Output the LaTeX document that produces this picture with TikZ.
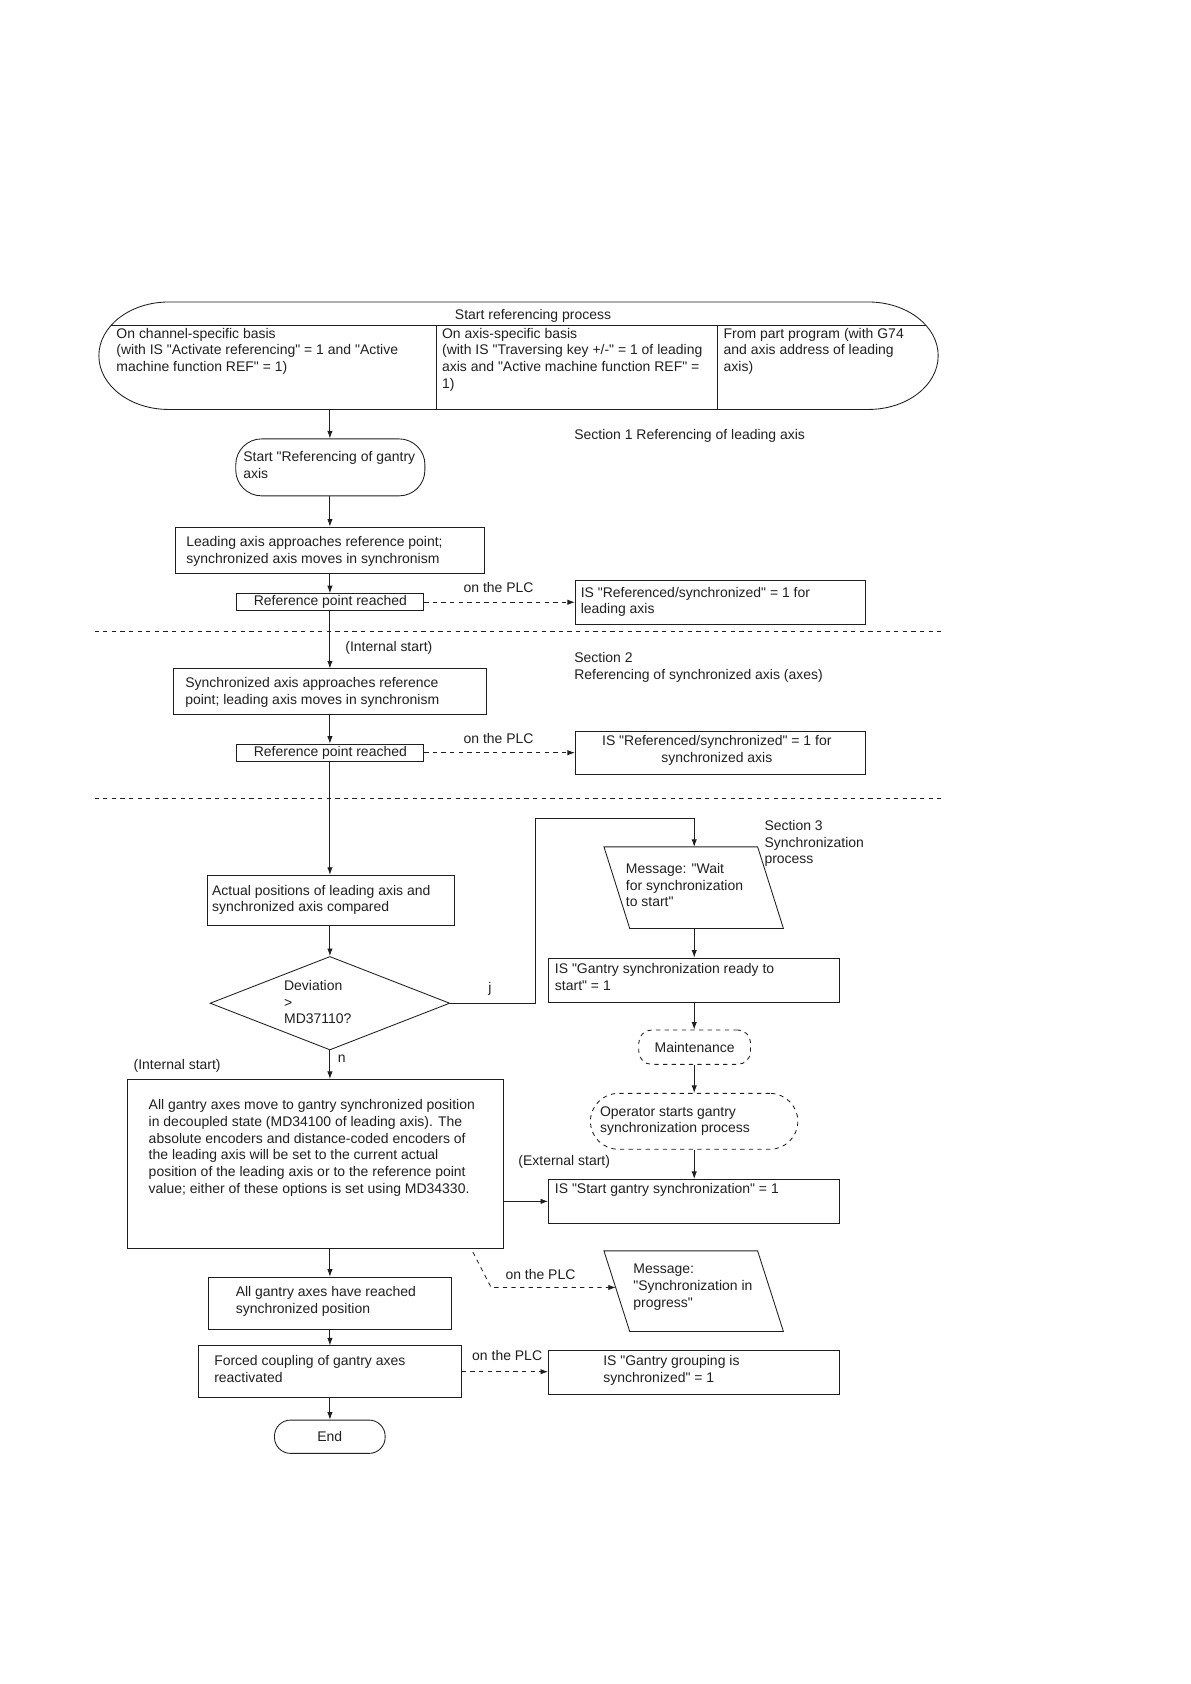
\documentclass[tikz,border=0pt]{standalone}
\usepackage{fontspec}
\setmainfont{Liberation Sans}[Ligatures=TeXOff]
\usetikzlibrary{arrows.meta,shapes.geometric}
\newcommand{\dfont}{\fontsize{13pt}{15.5pt}\selectfont}
\begin{document}
\begin{tikzpicture}[x=1pt,y=-1pt,line width=0.8pt,color={black!88},
  box/.style={draw,rectangle,inner sep=0pt,anchor=north west,font=\dfont},
  rbox/.style={box,rounded corners=#1},
  txt/.style={font=\dfont,inner sep=0pt,align=left,anchor=north west},
  lbl/.style={font=\dfont,inner sep=0pt,anchor=west},
  arr/.style={-{Latex[length=7pt,width=5pt]}},
  dsh/.style={dash pattern=on 4pt off 4pt},
  darr/.style={arr,dsh}]
\useasboundingbox (0,0) rectangle (1108,1567);
\coordinate (spine) at (307,0);
\coordinate (spine2) at (646,0);

% ---- top terminator
\draw (157,281) -- (808,281) arc[start angle=-90,end angle=90,x radius=65,y radius=50]
  -- (157,381) arc[start angle=90,end angle=270,x radius=65,y radius=50] -- cycle;
\draw (103,303) -- (862,303);
\draw (406,303) -- (406,381);
\draw (668,303) -- (668,381);
\coordinate (topbot) at (307,381);
\node[font=\dfont,inner sep=0pt,anchor=base] (ttitle) at (496,297) {Start referencing process};
\node[txt] (tc1) at (108,305) {On channel-specific basis\\(with IS "Activate referencing" = 1 and "Active\\machine function REF" = 1)};
\node[txt] (tc2) at (411,305) {On axis-specific basis\\(with IS "Traversing key +/-" = 1 of leading\\axis and "Active machine function REF" =\\1)};
\node[txt] (tc3) at (673,305) {From part program (with G74\\and axis address of leading\\axis)};

% ---- section 1
\node[rbox=24pt,minimum width=176pt,minimum height=53pt] (gstart) at (219,408) {};
\node[txt] (tgstart) at (226,420) {Start "Referencing of gantry\\axis};
\node[box,minimum width=287pt,minimum height=43pt] (lead) at (163,490) {};
\node[txt] (tlead) at (173,499) {Leading axis approaches reference point;\\synchronized axis moves in synchronism};
\node[box,minimum width=174pt,minimum height=16pt] (rpr1) at (220,552) {Reference point reached};
\node[box,minimum width=270pt,minimum height=41pt] (isref1) at (535,540) {};
\node[txt] (tisref1) at (540,546) {IS "Referenced/synchronized" = 1 for\\leading axis};
\node[lbl] (plc1) at (431,547) {on the PLC};
\node[lbl] (sec1) at (534,406) {Section 1 Referencing of leading axis};

\draw[dsh] (88,588) -- (876,588);

% ---- section 2
\node[lbl] (int1) at (321,603) {(Internal start)};
\node[txt] (sec2) at (534,607) {Section 2\\Referencing of synchronized axis (axes)};
\node[box,minimum width=291pt,minimum height=42pt] (sync) at (161,622) {};
\node[txt] (tsync) at (172,630) {Synchronized axis approaches reference\\point; leading axis moves in synchronism};
\node[box,minimum width=174pt,minimum height=16pt] (rpr2) at (220,692) {Reference point reached};
\node[box,minimum width=270pt,minimum height=40pt] (isref2) at (535,680) {};
\node[font=\dfont,inner sep=0pt,align=center] (tisref2) at (667,698) {IS "Referenced/synchronized" = 1 for\\synchronized axis};
\node[lbl] (plc2) at (431,687) {on the PLC};

\draw[dsh] (88,743) -- (876,743);

% ---- section 3
\node[txt] (sec3) at (711,763) {Section 3\\Synchronization\\process};
\node[box,minimum width=229pt,minimum height=47pt] (actual) at (193,814) {};
\node[txt] (tactual) at (197,823) {Actual positions of leading axis and\\synchronized axis compared};
\node[draw,diamond,minimum width=223pt,minimum height=87pt,inner sep=0pt] (dev) at (307,933.5) {};
\node[txt] (tdev) at (264,912) {Deviation\\>\\MD37110?};
\node[lbl] (lj) at (454,920) {j};
\node[lbl] (ln) at (314,985) {n};

\draw (562,788) -- (705,788) -- (729,864) -- (586,864) -- cycle;
\coordinate (msg1top) at (646,788);
\coordinate (msg1bot) at (646,864);
\node[txt] (tmsg1) at (582,803) {Message: "Wait\\for synchronization\\to start"};
\node[box,minimum width=271pt,minimum height=41pt] (ready) at (510,891) {};
\node[txt] (tready) at (516,896) {IS "Gantry synchronization ready to\\start" = 1};
\node[rbox=12pt,dsh,minimum width=104pt,minimum height=32pt] (maint) at (594,958) {Maintenance};
\node[rbox=26pt,dsh,minimum width=193pt,minimum height=52pt] (oper) at (549,1017) {};
\node[txt] (toper) at (558,1029) {Operator starts gantry\\synchronization process};
\node[lbl] (ext) at (482,1081) {(External start)};
\node[box,minimum width=271pt,minimum height=41pt] (startsync) at (510,1097) {};
\node[lbl] (tstartsync) at (516,1107) {IS "Start gantry synchronization" = 1};

\node[lbl] (int2) at (124,992) {(Internal start)};
\node[box,minimum width=350pt,minimum height=157pt] (big) at (118,1004) {};
\node[txt] (tbig) at (138,1023) {All gantry axes move to gantry synchronized position\\in decoupled state (MD34100 of leading axis). The\\absolute encoders and distance-coded encoders of\\the leading axis will be set to the current actual\\position of the leading axis or to the reference point\\value; either of these options is set using MD34330.};
\node[box,minimum width=226pt,minimum height=49pt] (reached) at (194,1188) {};
\node[txt] (treached) at (219,1197) {All gantry axes have reached\\synchronized position};

\draw (562,1164) -- (705,1164) -- (729,1239) -- (586,1239) -- cycle;
\coordinate (msg2left) at (573,1198);
\node[txt] (tmsg2) at (589,1176) {Message:\\"Synchronization in\\progress"};
\node[lbl] (plc3) at (470,1186) {on the PLC};
\coordinate (plcstart) at (440,1165);
\coordinate (plcbend) at (457,1198);

\node[box,minimum width=245pt,minimum height=48pt] (forced) at (184,1252) {};
\node[txt] (tforced) at (199,1261) {Forced coupling of gantry axes\\reactivated};
\node[box,minimum width=271pt,minimum height=41pt] (grouping) at (510,1256) {};
\node[txt] (tgrouping) at (561,1261) {IS "Gantry grouping is\\synchronized" = 1};
\node[lbl] (plc4) at (439,1261) {on the PLC};
\node[rbox=15pt,minimum width=103pt,minimum height=31pt] (endn) at (255,1321) {End};

% ---- connectors
\draw[arr] (topbot) -- (gstart.north -| spine);
\draw[arr] (gstart.south -| spine) -- (lead.north -| spine);
\draw[arr] (lead.south -| spine) -- (rpr1.north -| spine);
\draw[darr] (rpr1.east) -- (rpr1.east -| isref1.west);
\draw[arr] (rpr1.south -| spine) -- (sync.north -| spine);
\draw[arr] (sync.south -| spine) -- (rpr2.north -| spine);
\draw[darr] (rpr2.east) -- (rpr2.east -| isref2.west);
\draw[arr] (rpr2.south -| spine) -- (actual.north -| spine);
\draw[arr] (actual.south -| spine) -- (dev.north);
\draw[arr] (dev.east) -| (498,762) -| (msg1top);
\draw[arr] (msg1bot) -- (ready.north -| spine2);
\draw[arr] (ready.south -| spine2) -- (maint.north -| spine2);
\draw[arr] (maint.south -| spine2) -- (oper.north -| spine2);
\draw[arr] (oper.south -| spine2) -- (startsync.north -| spine2);
\draw[arr] (dev.south) -- (big.north -| spine);
\draw[arr] (startsync.west -| big.east) -- (startsync.west);
\draw[arr] (big.south -| spine) -- (reached.north -| spine);
\draw[darr] (plcstart) -- (plcbend) -- (msg2left);
\draw[arr] (reached.south -| spine) -- (forced.north -| spine);
\draw[darr] (forced.east) -- (forced.east -| grouping.west);
\draw[arr] (forced.south -| spine) -- (endn.north -| spine);
\end{tikzpicture}
\end{document}
